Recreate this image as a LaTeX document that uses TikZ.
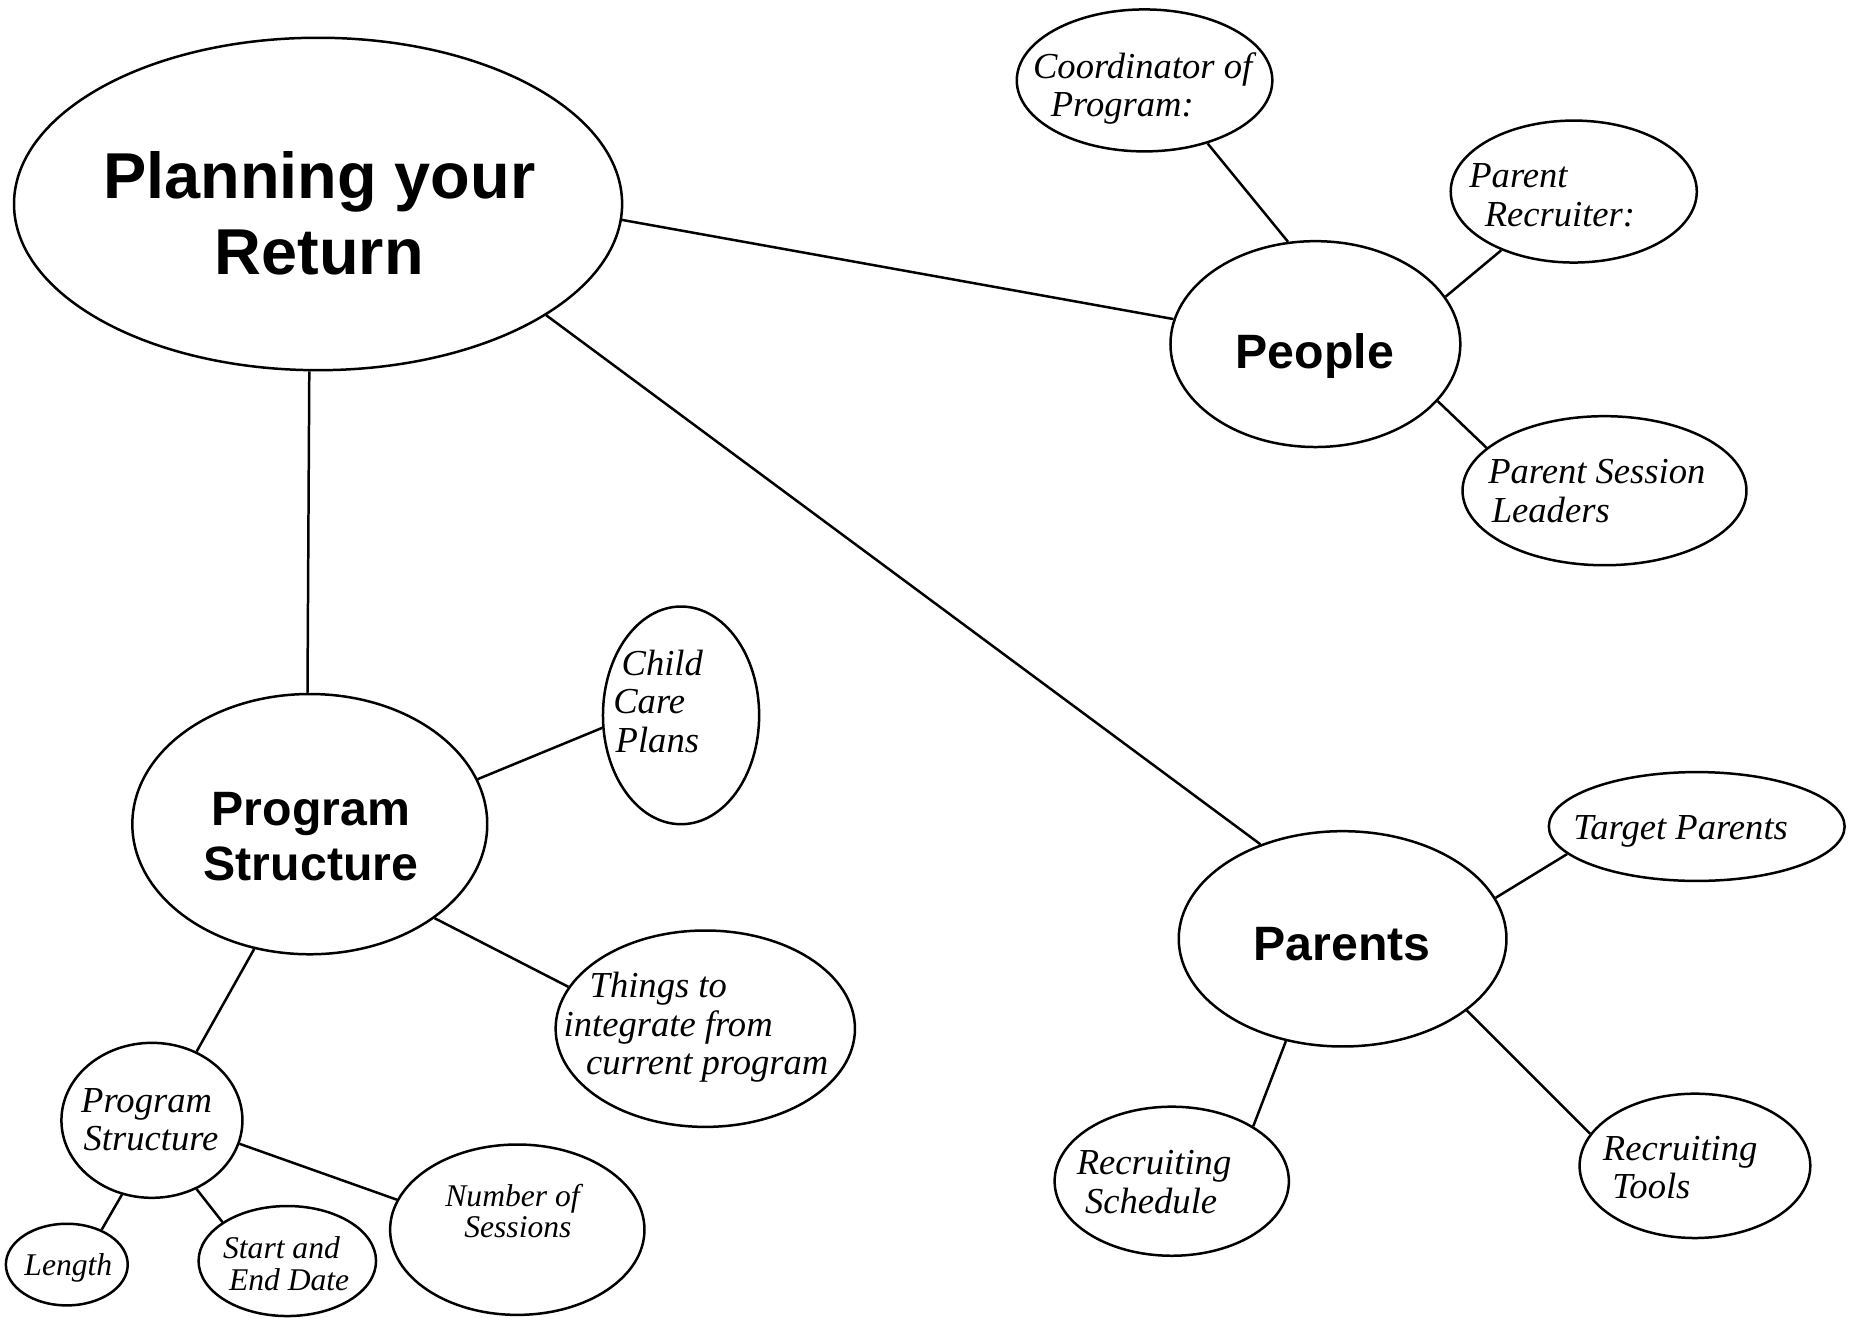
\documentclass[tikz,border=0pt]{standalone}
\usepackage{fontspec}
\setmainfont{Liberation Serif}
\newfontfamily\boldsans{Liberation Sans}
\usetikzlibrary{shapes.geometric}
\tikzset{
  ell/.style={draw, ellipse, inner sep=0pt, line width=0.6pt},
  link/.style={line width=0.6pt},
  bigtxt/.style={font=\boldsans\bfseries\fontsize{15.6}{18.2}\selectfont, align=center, anchor=base, inner sep=0pt},
  headtxt/.style={font=\boldsans\bfseries\fontsize{11.6}{13.4}\selectfont, align=center, anchor=base, inner sep=0pt},
  itx/.style={font=\itshape\fontsize{8.8}{9.25}\selectfont, align=left, anchor=base west, inner sep=0pt},
  itsm/.style={font=\itshape\fontsize{7.6}{7.6}\selectfont, align=left, anchor=base west, inner sep=0pt},
}
\begin{document}
\begin{tikzpicture}[x=0.01cm,y=-0.01cm]
\useasboundingbox (0,0) rectangle (1568,1114);
% ellipses
\node[ell, minimum width=5.14cm, minimum height=2.81cm] (main) at (269,172.5) {};
\node[ell, minimum width=2.45cm, minimum height=1.74cm] (people) at (1112.5,291) {};
\node[ell, minimum width=2.16cm, minimum height=1.20cm] (coord) at (968,68) {};
\node[ell, minimum width=2.08cm, minimum height=1.20cm] (recr) at (1331,162) {};
\node[ell, minimum width=2.40cm, minimum height=1.26cm] (psl) at (1357,415) {};
\node[ell, minimum width=1.32cm, minimum height=1.84cm] (child) at (576,605) {};
\node[ell, minimum width=3.00cm, minimum height=2.20cm] (ps) at (262,697) {};
\node[ell, minimum width=2.53cm, minimum height=1.66cm] (things) at (596.5,870) {};
\node[ell, minimum width=1.53cm, minimum height=1.31cm] (sps) at (128.5,947.5) {};
\node[ell, minimum width=1.03cm, minimum height=0.69cm] (len) at (56.5,1069.5) {};
\node[ell, minimum width=1.50cm, minimum height=0.93cm] (start) at (243,1066.5) {};
\node[ell, minimum width=2.15cm, minimum height=1.44cm] (num) at (437.5,1040) {};
\node[ell, minimum width=2.77cm, minimum height=1.82cm] (parents) at (1135.5,794) {};
\node[ell, minimum width=2.50cm, minimum height=0.92cm] (target) at (1435,699) {};
\node[ell, minimum width=1.98cm, minimum height=1.26cm] (sched) at (991,999) {};
\node[ell, minimum width=1.95cm, minimum height=1.22cm] (tools) at (1433.5,986) {};
% texts (anchored at the baseline of the last line)
\node[bigtxt] (mainT) at (270,232) {Planning your\\Return};
\node[headtxt] (peopleT) at (1112,312) {People};
\node[headtxt] (parentsT) at (1135,812) {Parents};
\node[headtxt] (psT) at (263,745) {Program\\Structure};
\node[itx] (coordT) at (873,98.5) {Coordinator of\\\hspace*{0.15cm}Program:};
\node[itx] (recrT) at (1242,191.5) {Parent\\\hspace*{0.13cm}Recruiter:};
\node[itx] (pslT) at (1258,441.5) {Parent Session\\\hspace*{0.03cm}Leaders};
\node[itx] (childT) at (518,636) {\hspace*{0.07cm}Child\\Care\\\hspace*{0.02cm}Plans};
\node[itx] (thingsT) at (476,909) {\hspace*{0.22cm}Things to\\integrate from\\\hspace*{0.19cm}current program};
\node[itx] (spsT) at (68,973) {Program\\\hspace*{0.02cm}Structure};
\node[itsm] (lenT) at (20,1079) {Length};
\node[itsm] (startT) at (188,1091) {Start and\\\hspace*{0.05cm}End Date};
\node[itsm] (numT) at (376,1047) {Number of\\\hspace*{0.16cm}Sessions};
\node[itx] (targetT) at (1330,710) {Target Parents};
\node[itx] (schedT) at (910,1026) {Recruiting\\\hspace*{0.07cm}Schedule};
\node[itx] (toolsT) at (1355,1014) {Recruiting\\\hspace*{0.08cm}Tools};
% connectors
\draw[link] (main.-3.9) -- (people.170.3);
\draw[link] (main.-93.7) -- (ps.91);
\draw[link] (main.-26.2) -- (parents.131.8);
\draw[link] (coord.-45) -- (people.105.7);
\draw[link] (recr.219.4) -- (people.20.9);
\draw[link] (people.-25.5) -- (psl.160.1);
\draw[link] (ps.15.9) -- (child.189.5);
\draw[link] (ps.-37.5) -- (things.163.7);
\draw[link] (ps.-114.2) -- (sps.57.6);
\draw[link] (sps.-112) -- (len.45.9);
\draw[link] (sps.-57.5) -- (start.149.1);
\draw[link] (sps.-15) -- (num.166.9);
\draw[link] (parents.15.6) -- (target.192.4);
\draw[link] (parents.-119.8) -- (sched.34.9);
\draw[link] (parents.-30.3) -- (tools.163.5);
\end{tikzpicture}
\end{document}
